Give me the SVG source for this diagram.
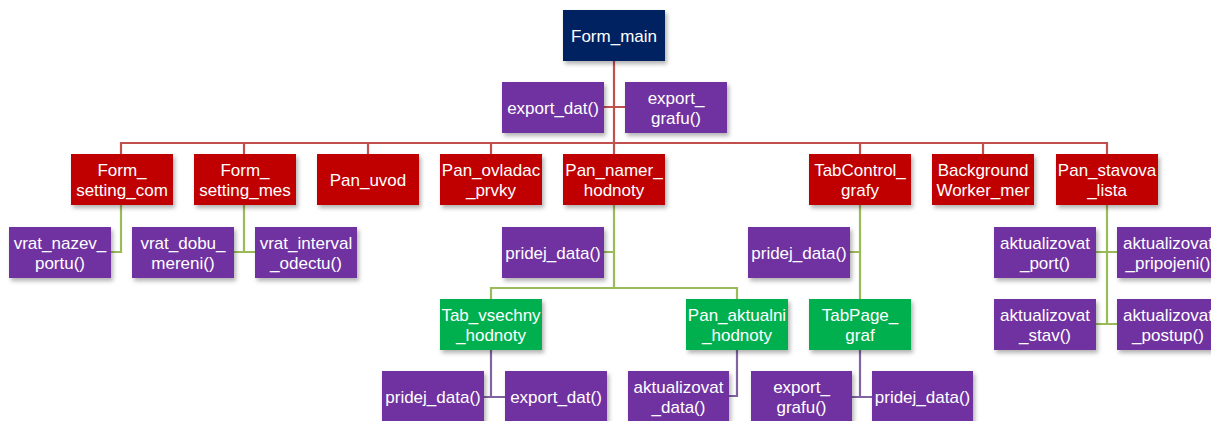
<svg xmlns="http://www.w3.org/2000/svg" width="1211" height="421" viewBox="0 0 1211 421">
<defs>
<filter id="sh" x="-10%" y="-10%" width="130%" height="140%">
<feDropShadow dx="2" dy="3" stdDeviation="2" flood-color="#000" flood-opacity="0.3"/>
</filter>
<style>
rect{filter:url(#sh);}
.navy{fill:#002060;}
.red{fill:#C00000;}
.pur{fill:#7030A0;}
.grn{fill:#00B050;}
text{font-family:"Liberation Sans",Arial,sans-serif;font-size:17px;fill:#fff;text-anchor:middle;}
.lr{stroke:#C0504D;stroke-width:2.2;fill:none;}
.lg{stroke:#9BBB59;stroke-width:2.2;fill:none;}
.lp{stroke:#8064A2;stroke-width:2.2;fill:none;}
</style>
</defs>
<rect x="0" y="0" width="1211" height="421" fill="#fff" style="filter:none"/>
<g id="connectors">
<path class="lr" d="M614 61V154M604 107H625M121 154V143H1107V154M244 143V154M368 143V154M491 143V154M860 143V154M983 143V154"/>
<path class="lg" d="M121 205V252H111M244 205V252M234 252H255M614 205V288M604 252H614M491 299V288H737V299M860 205V299M850 252H860M1107 205V324M1096 252H1117M1096 324H1117"/>
<path class="lp" d="M491 350V397M484 397H505M737 350V396H729M860 350V397M852 397H872"/>
</g>
<g id="form_main"><rect class="navy" x="563" y="10" width="102" height="51"/><text x="614" y="41.5">Form_main</text></g>
<g id="export_dat_main"><rect class="pur" x="502" y="82" width="102" height="51"/><text x="553" y="113.5">export_dat()</text></g>
<g id="export_grafu_main"><rect class="pur" x="625" y="82" width="102" height="51"/><text x="676" y="103.5">export_</text><text x="676" y="123.5">grafu()</text></g>
<g id="form_setting_com"><rect class="red" x="71" y="154" width="102" height="51"/><text x="122" y="175.5">Form_</text><text x="122" y="195.5">setting_com</text></g>
<g id="form_setting_mes"><rect class="red" x="194" y="154" width="102" height="51"/><text x="245" y="175.5">Form_</text><text x="245" y="195.5">setting_mes</text></g>
<g id="pan_uvod"><rect class="red" x="317" y="154" width="102" height="51"/><text x="368" y="185.5">Pan_uvod</text></g>
<g id="pan_ovladac_prvky"><rect class="red" x="440" y="154" width="102" height="51"/><text x="491" y="175.5">Pan_ovladac</text><text x="491" y="195.5">_prvky</text></g>
<g id="pan_namer_hodnoty"><rect class="red" x="563" y="154" width="102" height="51"/><text x="614" y="175.5">Pan_namer_</text><text x="614" y="195.5">hodnoty</text></g>
<g id="tabcontrol_grafy"><rect class="red" x="809" y="154" width="102" height="51"/><text x="860" y="175.5">TabControl_</text><text x="860" y="195.5">grafy</text></g>
<g id="backgroundworker_mer"><rect class="red" x="932" y="154" width="102" height="51"/><text x="983" y="175.5">Background</text><text x="983" y="195.5">Worker_mer</text></g>
<g id="pan_stavova_lista"><rect class="red" x="1056" y="154" width="102" height="51"/><text x="1107" y="175.5">Pan_stavova</text><text x="1107" y="195.5">_lista</text></g>
<g id="vrat_nazev_portu"><rect class="pur" x="9" y="227" width="102" height="51"/><text x="60" y="248.5">vrat_nazev_</text><text x="60" y="268.5">portu()</text></g>
<g id="vrat_dobu_mereni"><rect class="pur" x="132" y="227" width="102" height="51"/><text x="183" y="248.5">vrat_dobu_</text><text x="183" y="268.5">mereni()</text></g>
<g id="vrat_interval_odectu"><rect class="pur" x="255" y="227" width="102" height="51"/><text x="306" y="248.5">vrat_interval</text><text x="306" y="268.5">_odectu()</text></g>
<g id="pridej_data_namer"><rect class="pur" x="502" y="227" width="102" height="51"/><text x="553" y="258.5">pridej_data()</text></g>
<g id="pridej_data_tabcontrol"><rect class="pur" x="748" y="227" width="102" height="51"/><text x="799" y="258.5">pridej_data()</text></g>
<g id="aktualizovat_port"><rect class="pur" x="994" y="227" width="102" height="51"/><text x="1045" y="248.5">aktualizovat</text><text x="1045" y="268.5">_port()</text></g>
<g id="aktualizovat_pripojeni"><rect class="pur" x="1117" y="227" width="102" height="51"/><text x="1168" y="248.5">aktualizovat</text><text x="1168" y="268.5">_pripojeni()</text></g>
<g id="tab_vsechny_hodnoty"><rect class="grn" x="440" y="299" width="102" height="51"/><text x="491" y="320.5">Tab_vsechny</text><text x="491" y="340.5">_hodnoty</text></g>
<g id="pan_aktualni_hodnoty"><rect class="grn" x="686" y="299" width="102" height="51"/><text x="737" y="320.5">Pan_aktualni</text><text x="737" y="340.5">_hodnoty</text></g>
<g id="tabpage_graf"><rect class="grn" x="809" y="299" width="102" height="51"/><text x="860" y="320.5">TabPage_</text><text x="860" y="340.5">graf</text></g>
<g id="aktualizovat_stav"><rect class="pur" x="994" y="299" width="102" height="51"/><text x="1045" y="320.5">aktualizovat</text><text x="1045" y="340.5">_stav()</text></g>
<g id="aktualizovat_postup"><rect class="pur" x="1117" y="299" width="102" height="51"/><text x="1168" y="320.5">aktualizovat</text><text x="1168" y="340.5">_postup()</text></g>
<g id="pridej_data_vsechny"><rect class="pur" x="382" y="371" width="102" height="51"/><text x="433" y="402.5">pridej_data()</text></g>
<g id="export_dat_vsechny"><rect class="pur" x="505" y="371" width="102" height="51"/><text x="556" y="402.5">export_dat()</text></g>
<g id="aktualizovat_data"><rect class="pur" x="628" y="371" width="101" height="51"/><text x="678.5" y="392.5">aktualizovat</text><text x="678.5" y="412.5">_data()</text></g>
<g id="export_grafu_page"><rect class="pur" x="751" y="371" width="101" height="51"/><text x="801.5" y="392.5">export_</text><text x="801.5" y="412.5">grafu()</text></g>
<g id="pridej_data_page"><rect class="pur" x="872" y="371" width="101" height="51"/><text x="922.5" y="402.5">pridej_data()</text></g>
</svg>
